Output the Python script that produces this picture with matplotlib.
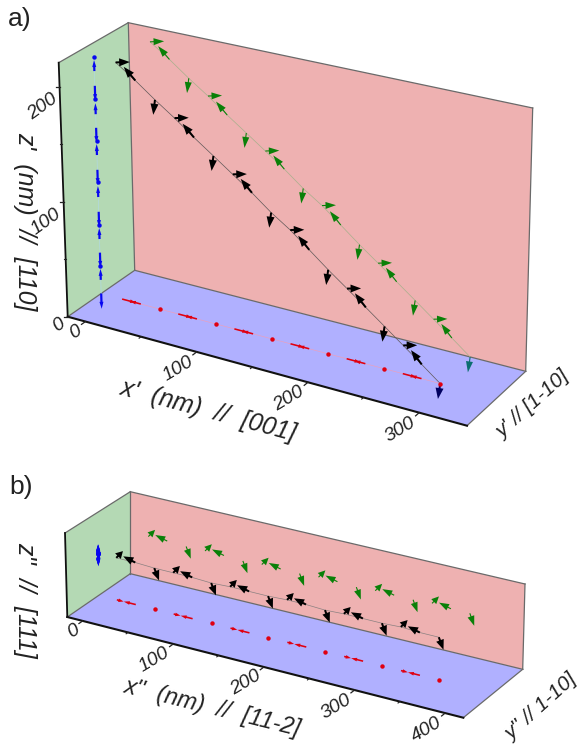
import numpy as np
import matplotlib
matplotlib.use('Agg')
import matplotlib.pyplot as plt

plt.rcParams['font.family'] = ['Liberation Sans', 'DejaVu Sans']

# Panel a data (nm)
a_x = [3, 20, 37, 54, 71, 88, 105, 122, 139, 156, 173, 190, 207, 224, 241, 258, 275, 292]
a_z = [208, 196, 183, 171, 158, 146, 134, 122, 109, 98, 85, 72, 60, 48, 36, 24, 12, 0]
a_mx = [12.6, -9.9, -1.8]
a_mz = [3.2, 9.7, -13.5]
a_xticks = [0, 100, 200, 300]
a_xminor = [50, 150, 250]
a_zticks = [0, 100, 200]
a_zminor = [50, 150]

# Panel b data (nm)
b_x = [3, 24, 45, 66, 87, 108, 129, 150, 171, 192, 213, 234, 255, 276, 297, 318, 339, 360]
b_z = [47, 47, 46, 46, 46, 45, 46, 46, 46, 47, 47, 46, 47, 47, 47, 48, 47, 47]
b_mx = [7.5, -13.3, 5.2]
b_mz = [9.4, 3.6, -12.5]
b_xticks = [0, 100, 200, 300, 400]
b_xminor = [50, 150, 250, 350]

# box corners on the page, [x][y][z] with 0 = low and 1 = high
a_box = np.array([[[(67.7, 316.7), (58.7, 62.7)], [(134.7, 270.3), (128.3, 22.7)]],
                  [[(467, 425.7), (474, 163)], [(525.7, 371.3), (532.7, 108)]]])
b_box = np.array([[[(67.3, 617), (65, 533)], [(130.3, 573.7), (130.3, 491.7)]],
                  [[(463.3, 717.7), (461, 633)], [(522.7, 669.3), (525, 584)]]])
a_lim = (-16, 343, 221)
b_lim = (-17, 420, 93)

RED = '#eeb1b1'
GREEN = '#b4d9b4'
BLUE = '#b0b0ff'
EDGE = '#6a6a6a'
TEXT = '#222222'

fig = plt.figure(figsize=(5.81, 7.45), dpi=100)
ax = fig.add_axes([0, 0, 1, 1])
ax.set_xlim(0, 581)
ax.set_ylim(745, 0)
ax.axis('off')


def project(box, lim, x, y, z):
    # trilinear map from data to page pixels
    u = (x - lim[0]) / (lim[1] - lim[0])
    w = z / lim[2]
    p = 0
    for i, a in enumerate([1 - u, u]):
        for j, b in enumerate([1 - y, y]):
            for k, c in enumerate([1 - w, w]):
                p = p + a * b * c * box[i, j, k]
    return p


def draw_arrow(t, h, color, head_w=5.5, head_l=9, shaft=1.2, dot=0):
    dist = np.hypot(h[0] - t[0], h[1] - t[1])
    if dot and dist < 6:
        # nearly end-on arrow reads as a dot in the projection
        ax.plot([t[0]], [t[1]], 'o', color=color, ms=dot, mec='none', zorder=5)
        return
    ax.arrow(t[0], t[1], h[0] - t[0], h[1] - t[1], width=shaft, head_width=head_w,
             head_length=min(head_l, 0.75 * dist), length_includes_head=True,
             fc=color, ec='none', zorder=5)


def draw_panel(box, lim, xs, zs, mx, mz, y0, line_cols, last_cols=None):
    P = lambda x, y, z: project(box, lim, x, y, z)
    xa, xb = lim[0], lim[1]
    zt = lim[2]

    # floor and the two walls
    ax.fill(*zip(P(xa, 0, 0), P(xb, 0, 0), P(xb, 1, 0), P(xa, 1, 0)), fc=BLUE, ec='none', zorder=1)
    ax.fill(*zip(P(xa, 1, 0), P(xb, 1, 0), P(xb, 1, zt), P(xa, 1, zt)), fc=RED, ec='none', zorder=1)
    ax.fill(*zip(P(xa, 0, 0), P(xa, 1, 0), P(xa, 1, zt), P(xa, 0, zt)), fc=GREEN, ec='none', zorder=1)

    # thin box edges
    for p, q in [(P(xa, 0, zt), P(xa, 1, zt)), (P(xa, 1, zt), P(xb, 1, zt)),
                 (P(xb, 1, zt), P(xb, 1, 0)), (P(xb, 1, 0), P(xb, 0, 0)),
                 (P(xa, 1, 0), P(xb, 1, 0)), (P(xa, 0, 0), P(xa, 1, 0)),
                 (P(xa, 1, 0), P(xa, 1, zt))]:
        ax.plot([p[0], q[0]], [p[1], q[1]], color=EDGE, lw=0.9, zorder=2)

    # connecting lines: site path and its three projections
    xs = np.array(xs, float)
    zs = np.array(zs, float)
    paths = {
        'black': [P(x, y0, z) for x, z in zip(xs, zs)],
        'green': [P(x, 1, z) for x, z in zip(xs, zs)],
        'red': [P(x, y0, 0) for x in xs],
        'blue': [P(xa, y0, z) for z in zs],
    }
    for name, pts in paths.items():
        if line_cols[name] is not None:
            pts = np.array(pts)
            ax.plot(pts[:, 0], pts[:, 1], color=line_cols[name], lw=0.5, zorder=3)

    # one arrow per site, the three spin directions repeat along x
    n = len(xs)
    for i in range(n):
        dx, dz = mx[i % 3], mz[i % 3]
        x, z = xs[i], zs[i]
        c_black, c_green = 'black', '#0a8008'
        if last_cols and i == n - 1:
            c_black, c_green = last_cols
        draw_arrow(P(x, y0, z), P(x + dx, y0, z + dz), c_black, head_w=8, head_l=11, shaft=2.0)
        draw_arrow(P(x, 1, z), P(x + dx, 1, z + dz), c_green, head_w=7, head_l=11, shaft=1.1)
        draw_arrow(P(x, y0, 0), P(x + dx, y0, 0), '#e00010', head_w=3.6, head_l=6, shaft=1.6, dot=3.2)
        draw_arrow(P(xa, y0, z), P(xa, y0, z + dz), '#0808f0', head_w=4, head_l=7, shaft=2.2, dot=3.2)

    # black axis lines
    p, q = P(xa, 0, 0), P(xb, 0, 0)
    ax.plot([p[0], q[0]], [p[1], q[1]], color='#111111', lw=1.5, zorder=4)
    p, q = P(xa, 0, 0), P(xa, 0, zt)
    ax.plot([p[0], q[0]], [p[1], q[1]], color='#111111', lw=1.3, zorder=4)
    return P


def x_ticks(P, major, minor, off):
    for t in major:
        p, q = P(t, 0, 0), P(t, -0.06, 0)
        ax.plot([p[0], q[0]], [p[1], q[1]], color=TEXT, lw=0.9, zorder=4)
        ax.text(q[0] + off[0], q[1] + off[1], str(t), fontsize=14, color=TEXT, style='italic',
                rotation=31, ha='right', va='center', rotation_mode='anchor')
    for t in minor:
        p, q = P(t, 0, 0), P(t, -0.03, 0)
        ax.plot([p[0], q[0]], [p[1], q[1]], color=TEXT, lw=0.8, zorder=4)


# panel a
line_a = {'black': '#605858', 'green': '#a8b08c', 'red': '#e8a0c0', 'blue': '#b0d8e0'}
Pa = draw_panel(a_box, a_lim, a_x, a_z, a_mx, a_mz, 0.5, line_a, ('#000060', '#0b6e70'))
x_ticks(Pa, a_xticks, a_xminor, (-1, 5))
for t in a_zticks:
    p = Pa(a_lim[0], 0, t)
    ax.plot([p[0], p[0] - 4], [p[1], p[1]], color=TEXT, lw=0.9, zorder=4)
    ax.text(p[0] - 4, p[1] + (10 if t else 5), str(t), fontsize=14, color=TEXT, style='italic',
            rotation=36, ha='right', va='center', rotation_mode='anchor')
for t in a_zminor:
    p = Pa(a_lim[0], 0, t)
    ax.plot([p[0], p[0] - 2], [p[1], p[1]], color=TEXT, lw=0.8, zorder=4)

ax.text(8, 19, 'a)', fontsize=19, color=TEXT, ha='left', va='center')
ax.text(25, 221, "z'  (nm)  //  [110]", fontsize=18, color=TEXT, style='italic',
        rotation=-90, ha='center', va='center')
ax.text(208, 411, "x'  (nm)  //  [001]", fontsize=18, color=TEXT, style='italic',
        rotation=-15, ha='center', va='center', rotation_mode='anchor')
ax.text(533, 405, "y' // [1-10]", fontsize=15, color=TEXT, style='italic',
        rotation=42, ha='center', va='center', rotation_mode='anchor')

# panel b
line_b = {'black': '#8a8080', 'green': None, 'red': None, 'blue': None}
Pb = draw_panel(b_box, b_lim, b_x, b_z, b_mx, b_mz, 0.5, line_b)
x_ticks(Pb, b_xticks, b_xminor, (-1, 5))

ax.text(9, 487, 'b)', fontsize=19, color=TEXT, ha='left', va='center')
ax.text(25, 600, "z''  //  [111]", fontsize=18, color=TEXT, style='italic',
        rotation=-90, ha='center', va='center')
ax.text(213, 708, "x''  (nm)  //  [11-2]", fontsize=17, color=TEXT, style='italic',
        rotation=-14, ha='center', va='center', rotation_mode='anchor')
ax.text(541, 707, "y'' // 1-10]", fontsize=15, color=TEXT, style='italic',
        rotation=42, ha='center', va='center', rotation_mode='anchor')

fig.savefig('out.png', dpi=100)
plt.close(fig)
